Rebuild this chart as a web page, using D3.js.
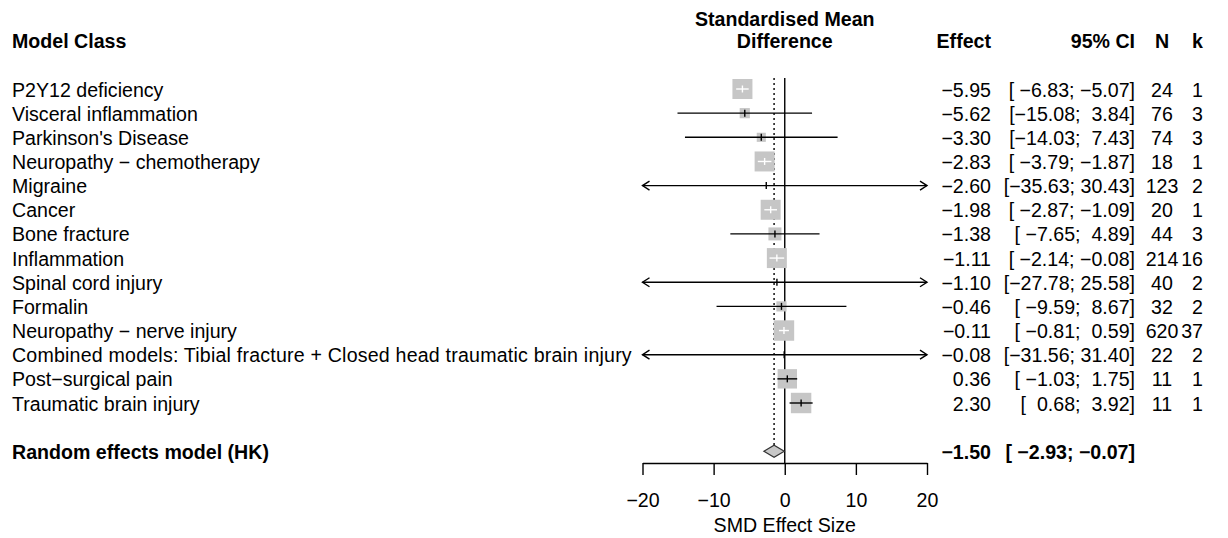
<!DOCTYPE html>
<html><head><meta charset="utf-8">
<script src="https://cdn.jsdelivr.net/npm/d3@7"></script>
<style>
body{margin:0;background:#fff;}
svg text{font-family:"Liberation Sans",Arial,Helvetica,sans-serif;fill:#000;white-space:pre;}
</style></head>
<body>
<svg id="chart" width="1228" height="538"></svg>
<script>
const labels = ["P2Y12 deficiency","Visceral inflammation","Parkinson's Disease","Neuropathy \u2212 chemotherapy","Migraine","Cancer","Bone fracture","Inflammation","Spinal cord injury","Formalin","Neuropathy \u2212 nerve injury","Combined models: Tibial fracture + Closed head traumatic brain injury","Post\u2212surgical pain","Traumatic brain injury"];
const effect = [-5.95,-5.62,-3.30,-2.83,-2.60,-1.98,-1.38,-1.11,-1.10,-0.46,-0.11,-0.08,0.36,2.30];
const lower  = [-6.83,-15.08,-14.03,-3.79,-35.63,-2.87,-7.65,-2.14,-27.78,-9.59,-0.81,-31.56,-1.03,0.68];
const upper  = [-5.07,3.84,7.43,-1.87,30.43,-1.09,4.89,-0.08,25.58,8.67,0.59,31.40,1.75,3.92];
const nObs   = [24,76,74,18,123,20,44,214,40,32,620,22,11,11];
const kStudies = [1,3,3,1,2,1,3,16,2,2,37,2,1,1];
const weights = [11.6,3.0,2.4,11.6,0.03,11.6,4.9,11.6,0.03,3.0,12.1,0.03,10.9,12.1];
const summaryLabel = "Random effects model (HK)";
const summaryValues = [-1.50,-2.93,-0.07]; // estimate, lower, upper
const xTicks = [-20,-10,0,10,20];
const headers = {label:"Model Class", plot:["Standardised Mean","Difference"], effect:"Effect", ci:"95% CI", n:"N", k:"k"};
const axisTitle = "SMD Effect Size";

const svg = d3.select("#chart");
const FS = 19.6;
const x = d3.scaleLinear().domain([-20,20]).range([642.5,927]);
const y = d3.scaleLinear().domain([0,13]).range([89,403]);
const ySum = y(15);
const size = d3.scaleSqrt().domain([0,11.6]).range([0,20]);
const axisY = 463;
const fmt = v => v.toFixed(2).replace("-","\u2212");
const pad = (s,w) => " ".repeat(Math.max(0,w-s.length)) + s;
const ciStr = (l,u) => "[" + pad(fmt(l),6) + "; " + pad(fmt(u),5) + "]";

const colEffect = 991, colCI = 1135, colN = 1162, colK = 1203, colLabel = 12;

function txt(g, xx, yy, s, anchor, bold){
  return g.append("text").attr("x",xx).attr("y",yy).attr("text-anchor",anchor||"start")
    .attr("xml:space","preserve")
    .style("font-size",FS+"px").style("font-weight",bold?"bold":"normal").text(s);
}

// headers
const hg = svg.append("g");
txt(hg,colLabel,48.3,headers.label,"start",true);
txt(hg,x(0),25.5,headers.plot[0],"middle",true);
txt(hg,x(0),48.3,headers.plot[1],"middle",true);
txt(hg,colEffect,48.3,headers.effect,"end",true);
txt(hg,colCI,48.3,headers.ci,"end",true);
txt(hg,colN,48.3,headers.n,"middle",true);
txt(hg,colK,48.3,headers.k,"end",true);

// reference lines
svg.append("line").attr("x1",x(0)).attr("x2",x(0)).attr("y1",78).attr("y2",axisY)
  .attr("stroke","#000").attr("stroke-width",1.4);
svg.append("line").attr("x1",x(summaryValues[0])).attr("x2",x(summaryValues[0])).attr("y1",78).attr("y2",ySum-6)
  .attr("stroke","#000").attr("stroke-width",1.4).attr("stroke-dasharray","2,3");

// rows
const rows = labels.map((l,i)=>({l,i,e:effect[i],lo:lower[i],up:upper[i],n:nObs[i],k:kStudies[i],w:weights[i]}));
const rg = svg.append("g");
rows.forEach(d=>{
  const yy = y(d.i);
  const ex = x(d.e);
  const s = size(d.w);
  if (s > 2) {
    rg.append("rect").attr("x",ex-s/2).attr("y",yy-s/2).attr("width",s).attr("height",s).attr("fill","#c6c6c6");
  }
  const lx = Math.max(x(d.lo), x.range()[0]);
  const ux = Math.min(x(d.up), x.range()[1]);
  const inside = x(d.lo) >= ex-s/2 && x(d.up) <= ex+s/2;
  const col = inside ? "#fff" : "#000";
  rg.append("line").attr("x1",lx).attr("x2",ux).attr("y1",yy).attr("y2",yy).attr("stroke",col).attr("stroke-width",1.4);
  rg.append("line").attr("x1",ex).attr("x2",ex).attr("y1",yy-3.5).attr("y2",yy+3.5).attr("stroke",col).attr("stroke-width",1.4);
  if (x(d.lo) < x.range()[0]) {
    rg.append("polyline").attr("points",[[lx+7,yy-4.5],[lx,yy],[lx+7,yy+4.5]].map(p=>p.join(",")).join(" "))
      .attr("fill","none").attr("stroke","#000").attr("stroke-width",1.4);
  }
  if (x(d.up) > x.range()[1]) {
    rg.append("polyline").attr("points",[[ux-7,yy-4.5],[ux,yy],[ux-7,yy+4.5]].map(p=>p.join(",")).join(" "))
      .attr("fill","none").attr("stroke","#000").attr("stroke-width",1.4);
  }
  const by = yy + 7.5;
  const lab = txt(rg,colLabel,by,d.l,"start",false);
  if (d.l.length > 60) lab.style("letter-spacing","0.2px");
  txt(rg,colEffect,by,fmt(d.e),"end",false);
  txt(rg,colCI,by,ciStr(d.lo,d.up),"end",false);
  txt(rg,colN,by,String(d.n),"middle",false);
  txt(rg,colK,by,String(d.k),"end",false);
});

// summary diamond
const [se, sl, su] = summaryValues;
svg.append("polygon").attr("points",[[x(sl),ySum],[x(se),ySum-6],[x(su),ySum],[x(se),ySum+6]].map(p=>p.join(",")).join(" "))
  .attr("fill","#c8c8c8").attr("stroke","#333").attr("stroke-width",1.2);
txt(svg,colLabel,ySum+7.5,summaryLabel,"start",true);
txt(svg,colEffect,ySum+7.5,fmt(se),"end",true);
txt(svg,colCI,ySum+7.5,ciStr(sl,su),"end",true);

// axis
const ag = svg.append("g").attr("transform",`translate(0,${axisY})`)
  .call(d3.axisBottom(x).tickValues(xTicks).tickSize(12).tickSizeOuter(0).tickPadding(18));
ag.select(".domain").attr("stroke","#000").attr("stroke-width",1.4);
ag.selectAll(".tick line").attr("stroke","#000").attr("stroke-width",1.4);
ag.selectAll(".tick text").style("font-size",FS+"px").attr("font-family",null);
ag.attr("font-family",null).attr("font-size",null);
txt(svg,x(0),532,axisTitle,"middle",false);
</script>
</body></html>
